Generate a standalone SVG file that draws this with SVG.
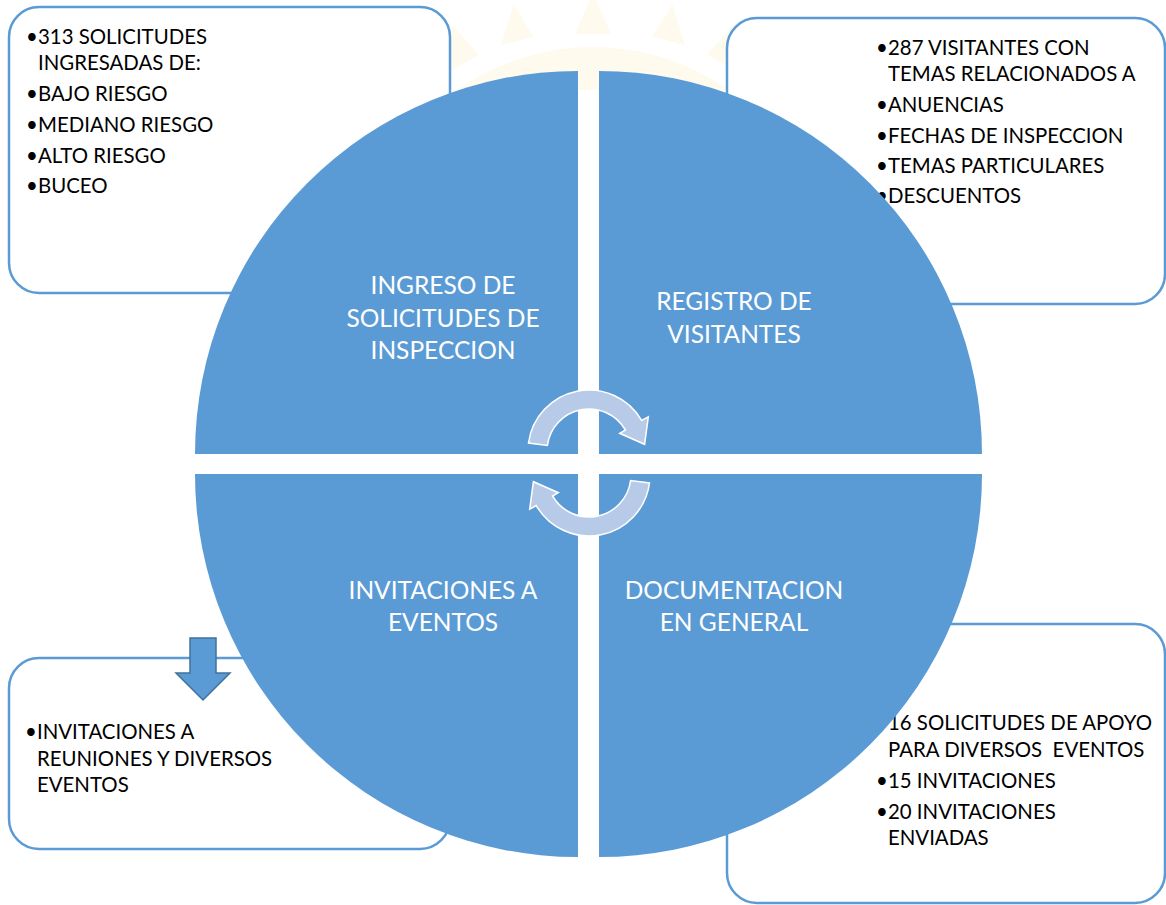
<svg xmlns="http://www.w3.org/2000/svg" width="1166" height="905" viewBox="0 0 1166 905">
<defs>
<style>
.box{fill:#ffffff;stroke:#5B9BD5;stroke-width:2.5}
.q{fill:#5B9BD5}
.t{font-family:Lato,"Liberation Sans",sans-serif;font-size:20.4px;fill:#000000}
.b{font-family:Lato,"Liberation Sans",sans-serif;font-size:20.4px;fill:#000000}
.lab{font-family:Lato,"Liberation Sans",sans-serif;font-size:24.5px;fill:#ffffff;text-anchor:middle}
.arr{fill:#B7CBE9;stroke:#ffffff;stroke-width:1.5;stroke-linejoin:miter}
.wm{fill:#FFFAEE}
</style>
<clipPath id="topclip"><rect x="0" y="0" width="1166" height="90"/></clipPath>
</defs>
<rect width="1166" height="905" fill="#ffffff"/>
<g id="watermark" clip-path="url(#topclip)">
<circle class="wm" cx="593" cy="283" r="236"/>
<path d="M445,85 A245,245 0 0 1 741,85" fill="none" stroke="#ffffff" stroke-width="5"/>
<g class="wm" stroke="#ffffff" stroke-width="4">
<polygon points="593,-12 572,36 614,36"/>
<polygon points="513,0 498,48 537,38"/>
<polygon points="673,0 688,48 649,38"/>
<polygon points="450,20 448,75 482,55"/>
<polygon points="736,20 738,75 704,55"/>
</g>
</g>
<g id="box-tl">
<rect class="box" x="9" y="7" width="441" height="286" rx="30"/>
<text class="b" x="26" y="44">•</text><text class="t" x="38" y="44">313 SOLICITUDES</text>
<text class="t" x="38" y="70">INGRESADAS DE:</text>
<text class="b" x="26" y="101">•</text><text class="t" x="38" y="101">BAJO RIESGO</text>
<text class="b" x="26" y="132">•</text><text class="t" x="38" y="132">MEDIANO RIESGO</text>
<text class="b" x="26" y="163">•</text><text class="t" x="38" y="163">ALTO RIESGO</text>
<text class="b" x="26" y="193">•</text><text class="t" x="38" y="193">BUCEO</text>
</g>
<g id="box-tr">
<rect class="box" x="727" y="18" width="438" height="286" rx="30"/>
<text class="b" x="876" y="55">•</text><text class="t" x="888" y="55">287 VISITANTES CON</text>
<text class="t" x="888" y="81">TEMAS RELACIONADOS A</text>
<text class="b" x="876" y="112">•</text><text class="t" x="888" y="112">ANUENCIAS</text>
<text class="b" x="876" y="143">•</text><text class="t" x="888" y="143">FECHAS DE INSPECCION</text>
<text class="b" x="876" y="173">•</text><text class="t" x="888" y="173">TEMAS PARTICULARES</text>
<text class="b" x="876" y="203">•</text><text class="t" x="888" y="203">DESCUENTOS</text>
</g>
<g id="box-bl">
<rect class="box" x="9" y="658" width="441" height="191" rx="30"/>
<text class="b" x="25" y="739">•</text><text class="t" x="37" y="739">INVITACIONES A</text>
<text class="t" x="37" y="766">REUNIONES Y DIVERSOS</text>
<text class="t" x="37" y="792">EVENTOS</text>
</g>
<g id="box-br">
<rect class="box" x="727" y="624" width="438" height="279" rx="30"/>
<text class="b" x="876" y="730">•</text><text class="t" x="888" y="730">16 SOLICITUDES DE APOYO</text>
<text class="t" x="888" y="757" xml:space="preserve">PARA DIVERSOS  EVENTOS</text>
<text class="b" x="876" y="788">•</text><text class="t" x="888" y="788">15 INVITACIONES</text>
<text class="b" x="876" y="819">•</text><text class="t" x="888" y="819">20 INVITACIONES</text>
<text class="t" x="888" y="845">ENVIADAS</text>
</g>
<g id="q-ingreso">
<path class="q" d="M578,454 L195,454 A383,383 0 0 1 578,71 Z"/>
<text class="lab" x="443" y="294">INGRESO DE</text>
<text class="lab" x="443" y="327">SOLICITUDES DE</text>
<text class="lab" x="443" y="359">INSPECCION</text>
</g>
<g id="q-registro">
<path class="q" d="M599,454 L599,71 A383,383 0 0 1 982,454 Z"/>
<text class="lab" x="734" y="310">REGISTRO DE</text>
<text class="lab" x="734" y="343">VISITANTES</text>
</g>
<g id="q-invitaciones">
<path class="q" d="M578,474 L578,857 A383,383 0 0 1 195,474 Z"/>
<text class="lab" x="443" y="599">INVITACIONES A</text>
<text class="lab" x="443" y="631">EVENTOS</text>
</g>
<g id="q-documentacion">
<path class="q" d="M599,474 L982,474 A383,383 0 0 1 599,857 Z"/>
<text class="lab" x="734" y="599">DOCUMENTACION</text>
<text class="lab" x="734" y="631">EN GENERAL</text>
</g>
<g id="connectors">
<path id="cycle-top" class="arr" d="M528.5,443 A61,61 0 0 1 641.8,420.5 L648.3,416.8 L644.6,444.3 L619.7,433.3 L625.4,430 A42,42 0 0 0 547.4,445.5 Z"/>
<path id="cycle-bottom" class="arr" transform="rotate(180 589 463)" d="M528.5,443 A61,61 0 0 1 641.8,420.5 L648.3,416.8 L644.6,444.3 L619.7,433.3 L625.4,430 A42,42 0 0 0 547.4,445.5 Z"/>
<path id="down-arrow" d="M190,638 L216,638 L216,673 L230,673 L203,700 L176,673 L190,673 Z" fill="#5B9BD5" stroke="#41719C" stroke-width="1.5"/>
</g>
</svg>
